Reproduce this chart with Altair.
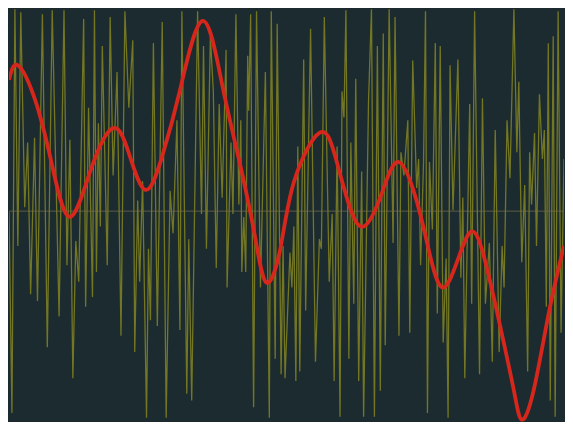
import altair as alt
import pandas as pd

# Noisy signal (yellow): sample position and level
noise_t = [0, 3, 6, 9, 12, 16, 19, 22, 26, 29, 34, 39, 44, 51, 56, 59, 62, 65, 68, 71,
           76, 78, 81, 85, 87, 89, 91, 93, 95, 100, 103, 106, 110, 114, 118, 122, 126, 128, 131, 133,
           136, 140, 142, 144, 147, 151, 156, 160, 164, 167, 171, 174, 176, 181, 183, 186, 192, 196, 198, 201,
           205, 208, 211, 214, 217, 221, 222, 226, 228, 231, 234, 236, 237, 239, 241, 243, 244, 246, 249, 252,
           256, 261, 265, 267, 271, 273, 277, 279, 281, 286, 288, 290, 292, 294, 296, 300, 302, 307, 312, 316,
           318, 321, 326, 329, 331, 334, 337, 339, 341, 343, 346, 348, 351, 353, 356, 359, 361, 366, 369, 372,
           375, 378, 381, 383, 387, 391, 393, 397, 399, 402, 406, 408, 411, 415, 417, 419, 422, 424, 426, 428,
           431, 434, 436, 439, 442, 445, 447, 449, 452, 457, 460, 462, 464, 469, 471, 474, 479, 482, 485, 489,
           492, 495, 499, 502, 504, 507, 510, 514, 517, 519, 522, 525, 528, 530, 532, 535, 537, 540, 543, 545,
           547, 549, 551, 554, 556, 559, 562, 565]
noise_v = [-1, -209, 209, -36, 206, 4, 71, -86, 76, -93, 204, -141, 208, -109, 208, -56, 74, -173, -31, -73,
           199, -99, 107, -89, 208, -63, 91, -16, 171, -56, 201, 37, 144, -129, 207, 107, 177, -146, 11, -73,
           31, -214, -39, -113, 174, -119, 196, -214, 21, -23, 94, -123, 207, -189, -29, -196, 207, -3, 171, -39,
           181, 124, -59, 111, 14, 167, -79, 71, -3, 204, 7, 94, -63, -6, -63, 161, 104, 204, -203, 207,
           -79, 144, -214, 207, -153, 194, -169, -36, -173, -43, -79, -16, -176, 67, -166, 157, -103, 189, -156, -29,
           -39, 201, -73, -3, -176, 67, -213, 124, 97, 208, -153, 71, -96, 137, -176, 41, -213, 114, 209, -213,
           171, -186, 184, -139, 209, -33, 201, -129, 61, 37, 94, -126, 156, 24, 54, -56, 51, 207, -209, 51,
           -19, 174, -106, 171, -136, -49, -214, 151, 1, 157, -69, 14, -173, 111, -96, 207, -169, 117, -96, -33,
           -156, 84, -146, -36, -79, 94, 34, 209, 61, 134, -53, 27, -166, 61, 7, 81, -36, 121, 54, 84,
           -99, 174, -196, 181, -213, 207, -126, 54]

# Smooth trend (red): sample position and level
trend_t = [0, 9, 27, 44, 62, 84, 106, 122, 139, 156, 174, 197, 217, 234, 250, 262, 276, 290,
           316, 332, 346, 361, 379, 396, 414, 427, 441, 457, 471, 484, 500, 514, 522, 534, 550, 565]
trend_v = [136, 151, 114, 47, -6, 45, 86, 60, 22, 57, 125, 197, 131, 54, -24, -74, -40, 30,
           81, 57, 7, -16, 17, 51, 14, -39, -79, -50, -21, -49, -119, -186, -216, -186, -103, -36]

noise = pd.DataFrame({"t": noise_t, "v": noise_v})
trend = pd.DataFrame({"t": trend_t, "v": trend_v})

xs = alt.Scale(domain=[0, 565], nice=False, zero=False)
ys = alt.Scale(domain=[-218, 210], nice=False, zero=False)

base_x = alt.X("t:Q", scale=xs, axis=None)
base_y = alt.Y("v:Q", scale=ys, axis=None)

noise_line = alt.Chart(noise).mark_line(
    color="#909020", strokeWidth=1.3, opacity=0.75, clip=True
).encode(x=base_x, y=base_y)

midline = alt.Chart(pd.DataFrame({"v": [0]})).mark_rule(
    color="#77714e", strokeWidth=1, opacity=0.7
).encode(y=alt.Y("v:Q", scale=ys, axis=None))

trend_line = alt.Chart(trend).mark_line(
    color="#d7261b", strokeWidth=3.8, interpolate="natural", clip=True
).encode(x=base_x, y=base_y)

chart = (
    alt.layer(noise_line, midline, trend_line)
    .properties(width=556, height=414, padding=0, background="#1c2b2f")
    .configure_view(strokeWidth=0, fill="#1c2b2f")
)

chart.save("out.html", embed_options={"renderer": "svg", "actions": False})
